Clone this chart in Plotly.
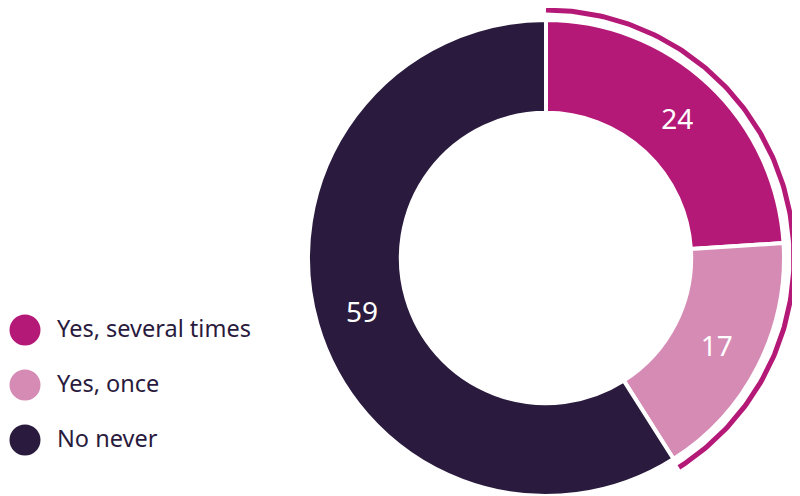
import numpy as np
import plotly.graph_objects as go

# data
categories = ['Yes, several times', 'Yes, once', 'No never']
values = [24, 17, 59]
colors = ['#B51978', '#D68BB4', '#2A1B3E']
# slices that get the outer highlight arc
highlight = ['Yes, several times', 'Yes, once']

# the page body has an 8px margin, so the figure is shrunk to fit the window
PAD = 8
W, H = 800 - PAD, 496 - PAD
# pie geometry in pixels (y measured from top of figure)
cx, cy, r = 546 - PAD, 258 - PAD, 238
arc_r = 248

fig = go.Figure()

# donut
fig.add_trace(go.Pie(
    labels=categories,
    values=values,
    marker=dict(colors=colors, line=dict(color='white', width=4)),
    hole=0.61,
    sort=False,
    direction='clockwise',
    rotation=0,
    textinfo='value',
    textposition='inside',
    insidetextorientation='horizontal',
    textfont=dict(color='white', size=28, family='Noto Sans'),
    domain=dict(x=[(cx - r) / W, (cx + r) / W], y=[0, 2 * r / H]),
    showlegend=False,
    hoverinfo='label+value',
))

# highlight arc round the "yes" slices
share = sum(v for c, v in zip(categories, values) if c in highlight) / sum(values)
theta = np.linspace(0, 2 * np.pi * share, 200)
fig.add_trace(go.Scatter(
    x=cx + arc_r * np.sin(theta),
    y=cy - arc_r * np.cos(theta),
    mode='lines',
    line=dict(color=colors[0], width=5),
    showlegend=False,
    hoverinfo='skip',
))

# legend drawn by hand (plotly caps legend marker size)
leg_y = [330 - PAD + 55 * i for i in range(len(categories))]
fig.add_trace(go.Scatter(
    x=[25 - PAD] * len(categories),
    y=leg_y,
    mode='markers',
    marker=dict(size=31, color=colors, line=dict(width=0)),
    showlegend=False,
    hoverinfo='skip',
))
for c, yy in zip(categories, leg_y):
    fig.add_annotation(
        x=55 - PAD, y=yy - 2, xref='x', yref='y', text=c, showarrow=False,
        xanchor='left', yanchor='middle',
        font=dict(size=23.5, color='#2A1B3E', family='Noto Sans'),
    )

fig.update_layout(
    width=W,
    height=H,
    margin=dict(l=0, r=0, t=0, b=0),
    paper_bgcolor='white',
    plot_bgcolor='rgba(0,0,0,0)',
    xaxis=dict(range=[0, W], visible=False, fixedrange=True),
    yaxis=dict(range=[H, 0], visible=False, fixedrange=True),
    font=dict(family='Noto Sans'),
)

fig.write_html('out.html')
